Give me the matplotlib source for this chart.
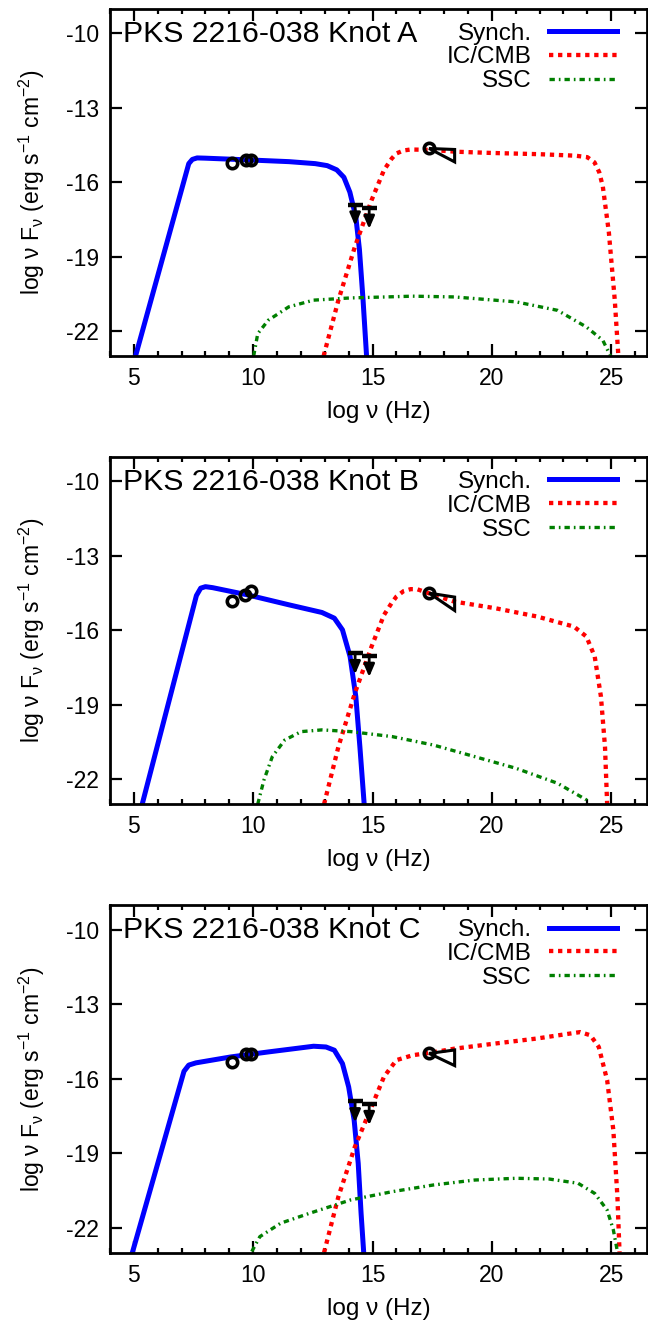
import matplotlib
matplotlib.use("Agg")
import matplotlib.pyplot as plt

plt.rcParams['font.family'] = ['Liberation Sans', 'DejaVu Sans']
plt.rcParams['mathtext.fontset'] = 'custom'
plt.rcParams['mathtext.rm'] = 'Liberation Sans'
plt.rcParams['axes.unicode_minus'] = False

titles = ["PKS 2216-038 Knot A", "PKS 2216-038 Knot B", "PKS 2216-038 Knot C"]

# Synchrotron
syn_x = [
    [5.07, 7.3, 7.45, 7.65, 8.0, 9.8, 11.5, 12.6, 13.1, 13.5, 13.8, 14.05, 14.3, 14.45, 14.6, 14.75],
    [5.35, 7.62, 7.8, 8.0, 8.3, 9.76, 11.49, 12.88, 13.4, 13.74, 14.06, 14.3, 14.47, 14.65],
    [4.95, 7.1, 7.3, 7.6, 9.07, 10.63, 12.53, 13.05, 13.4, 13.74, 14.0, 14.23, 14.4, 14.52, 14.63],
]
syn_y = [
    [-23.0, -15.25, -15.08, -15.02, -15.03, -15.1, -15.17, -15.25, -15.33, -15.5, -15.8, -16.4, -17.4, -18.7, -20.7, -23.0],
    [-23.0, -14.6, -14.3, -14.24, -14.28, -14.57, -14.97, -15.28, -15.51, -15.98, -17.06, -18.67, -20.69, -23.0],
    [-22.96, -15.7, -15.45, -15.36, -15.12, -14.92, -14.69, -14.72, -14.85, -15.39, -16.33, -17.67, -19.41, -21.42, -23.0],
]

# IC/CMB
ic_x = [
    [12.95, 13.57, 14.26, 14.96, 15.48, 15.8, 16.0, 16.3, 16.6, 17.5, 18.5, 20.0, 22.0, 23.5, 24.0, 24.3, 24.5, 24.65, 24.9, 25.15, 25.3],
    [12.97, 13.57, 14.26, 14.96, 15.48, 15.8, 16.0, 16.3, 16.6, 16.86, 17.55, 18.42, 20.15, 21.88, 23.44, 23.96, 24.31, 24.57, 24.74, 24.83],
    [12.97, 13.57, 14.26, 14.96, 15.48, 16.0, 16.69, 17.38, 18.42, 20.15, 21.88, 23.27, 23.7, 24.13, 24.48, 24.83, 25.09, 25.26, 25.35],
]
ic_y = [
    [-23.0, -20.75, -18.6, -16.72, -15.51, -15.05, -14.84, -14.72, -14.68, -14.7, -14.77, -14.82, -14.87, -14.93, -14.99, -15.2, -15.6, -16.18, -18.0, -20.75, -23.0],
    [-23.0, -20.69, -18.53, -16.65, -15.38, -14.9, -14.64, -14.42, -14.34, -14.34, -14.57, -14.84, -15.11, -15.44, -15.85, -16.25, -17.06, -18.67, -20.69, -23.0],
    [-23.0, -20.75, -18.74, -17.13, -15.92, -15.25, -15.05, -14.96, -14.79, -14.58, -14.38, -14.18, -14.12, -14.25, -14.72, -16.06, -18.07, -20.75, -23.0],
]

# SSC
ssc_x = [
    [10.02, 10.19, 10.63, 11.49, 12.53, 14.09, 16.69, 18.42, 21.02, 22.75, 23.96, 24.65, 24.97],
    [10.19, 10.45, 10.8, 11.32, 12.01, 12.88, 14.09, 15.82, 17.55, 19.29, 21.02, 22.75, 23.96, 24.05],
    [9.94, 10.28, 11.15, 12.36, 14.09, 15.82, 17.55, 19.29, 21.02, 22.4, 23.61, 24.31, 24.83, 25.09, 25.26],
]
ssc_y = [
    [-23.0, -22.1, -21.56, -21.02, -20.75, -20.66, -20.59, -20.62, -20.82, -21.16, -21.83, -22.37, -23.0],
    [-23.0, -22.03, -21.09, -20.42, -20.08, -20.01, -20.08, -20.28, -20.62, -21.09, -21.56, -22.16, -22.83, -23.0],
    [-22.96, -22.36, -21.82, -21.42, -20.88, -20.55, -20.28, -20.08, -20.01, -20.04, -20.21, -20.62, -21.29, -22.09, -22.96],
]

# Radio data points
radio_x = [[9.11, 9.69, 9.9], [9.11, 9.66, 9.9], [9.11, 9.69, 9.9]]
radio_y = [[-15.24, -15.11, -15.11], [-14.8, -14.57, -14.4], [-15.34, -15.0, -15.0]]

# Optical / IR upper limits
ul_x = [[14.27, 14.86], [14.27, 14.86], [14.27, 14.86]]
ul_y = [[-16.9, -17.03], [-16.92, -17.03], [-16.91, -17.02]]

# X-ray point and bowtie
xray_x = [17.37, 17.37, 17.37]
xray_y = [-14.64, -14.5, -14.98]
bow_x = [[17.37, 18.44, 18.44], [17.37, 18.44, 18.44], [17.37, 18.44, 18.44]]
bow_y = [[-14.64, -14.68, -15.18], [-14.5, -14.66, -15.2], [-14.98, -14.84, -15.47]]

W, H = 648, 1328
fig = plt.figure(figsize=(W / 100, H / 100), dpi=100)

bottoms = [356.0, 804.1, 1252.5]
for i in range(3):
    ax = fig.add_axes([110 / W, 1 - bottoms[i] / H, 537 / W, 347.5 / H])
    ax.set_xlim(4, 26.5)
    ax.set_ylim(-23, -9)

    ax.plot(syn_x[i], syn_y[i], color='#0000ff', lw=3.6, solid_joinstyle='round',
            label='Synch.')
    ax.plot(ic_x[i], ic_y[i], color='#ff0000', lw=3.1, linestyle=(0, (1, 1.1)),
            dash_capstyle='butt', label='IC/CMB')
    ax.plot(ssc_x[i], ssc_y[i], color='#007f00', lw=2.4,
            linestyle=(0, (1.6, 1.2, 0.5, 1.2)), dash_capstyle='butt', label='SSC')

    ax.plot(radio_x[i], radio_y[i], 'o', ms=7.5, mfc='none', mec='k', mew=2.6, zorder=5)
    ax.plot([xray_x[i]], [xray_y[i]], 'o', ms=7.5, mfc='none', mec='k', mew=2.6, zorder=5)
    ax.fill(bow_x[i], bow_y[i], fill=False, edgecolor='k', lw=2.2, zorder=5)

    for ux, uy in zip(ul_x[i], ul_y[i]):
        ax.plot([ux - 0.31, ux + 0.31], [uy, uy], color='k', lw=3.2,
                solid_capstyle='butt', zorder=6)
        ax.annotate('', xy=(ux, uy - 0.85), xytext=(ux, uy),
                    arrowprops=dict(arrowstyle='-|>,head_length=0.75,head_width=0.32',
                                    color='k', lw=2.0, shrinkA=0, shrinkB=0),
                    zorder=6)

    ax.text(4.53, -10.34, titles[i], fontsize=21.8, va='baseline', ha='left')

    leg = ax.legend(loc='upper right', bbox_to_anchor=(1 - 30 / 537, 1 - 14 / 347.5),
                    markerfirst=False, frameon=False, fontsize=17.5,
                    handlelength=2.8, handletextpad=0.7, labelspacing=0.08,
                    borderaxespad=0.0, borderpad=0.0)

    ax.set_xticks([5, 10, 15, 20, 25])
    ax.set_xticks(range(4, 27), minor=True)
    ax.set_yticks([-10, -13, -16, -19, -22])
    ax.tick_params(which='both', direction='in', top=True, right=True,
                   labelsize=16.5, width=1.6)
    ax.tick_params(which='major', length=8.5, pad=8)
    ax.tick_params(which='minor', length=3.6)
    for s in ax.spines.values():
        s.set_linewidth(2.0)

    ax.set_xlabel('log ν (Hz)', fontsize=17.5)
    ax.xaxis.set_label_coords(0.5, -0.13)
    ax.set_ylabel('log ν F$_{\\mathregular{ν}}$ (erg s$^{\\mathregular{-1}}$ cm$^{\\mathregular{-2}}$)',
                  fontsize=16.5)
    ax.yaxis.set_label_coords(-0.118, 0.5)

fig.savefig('out.png', dpi=100)
